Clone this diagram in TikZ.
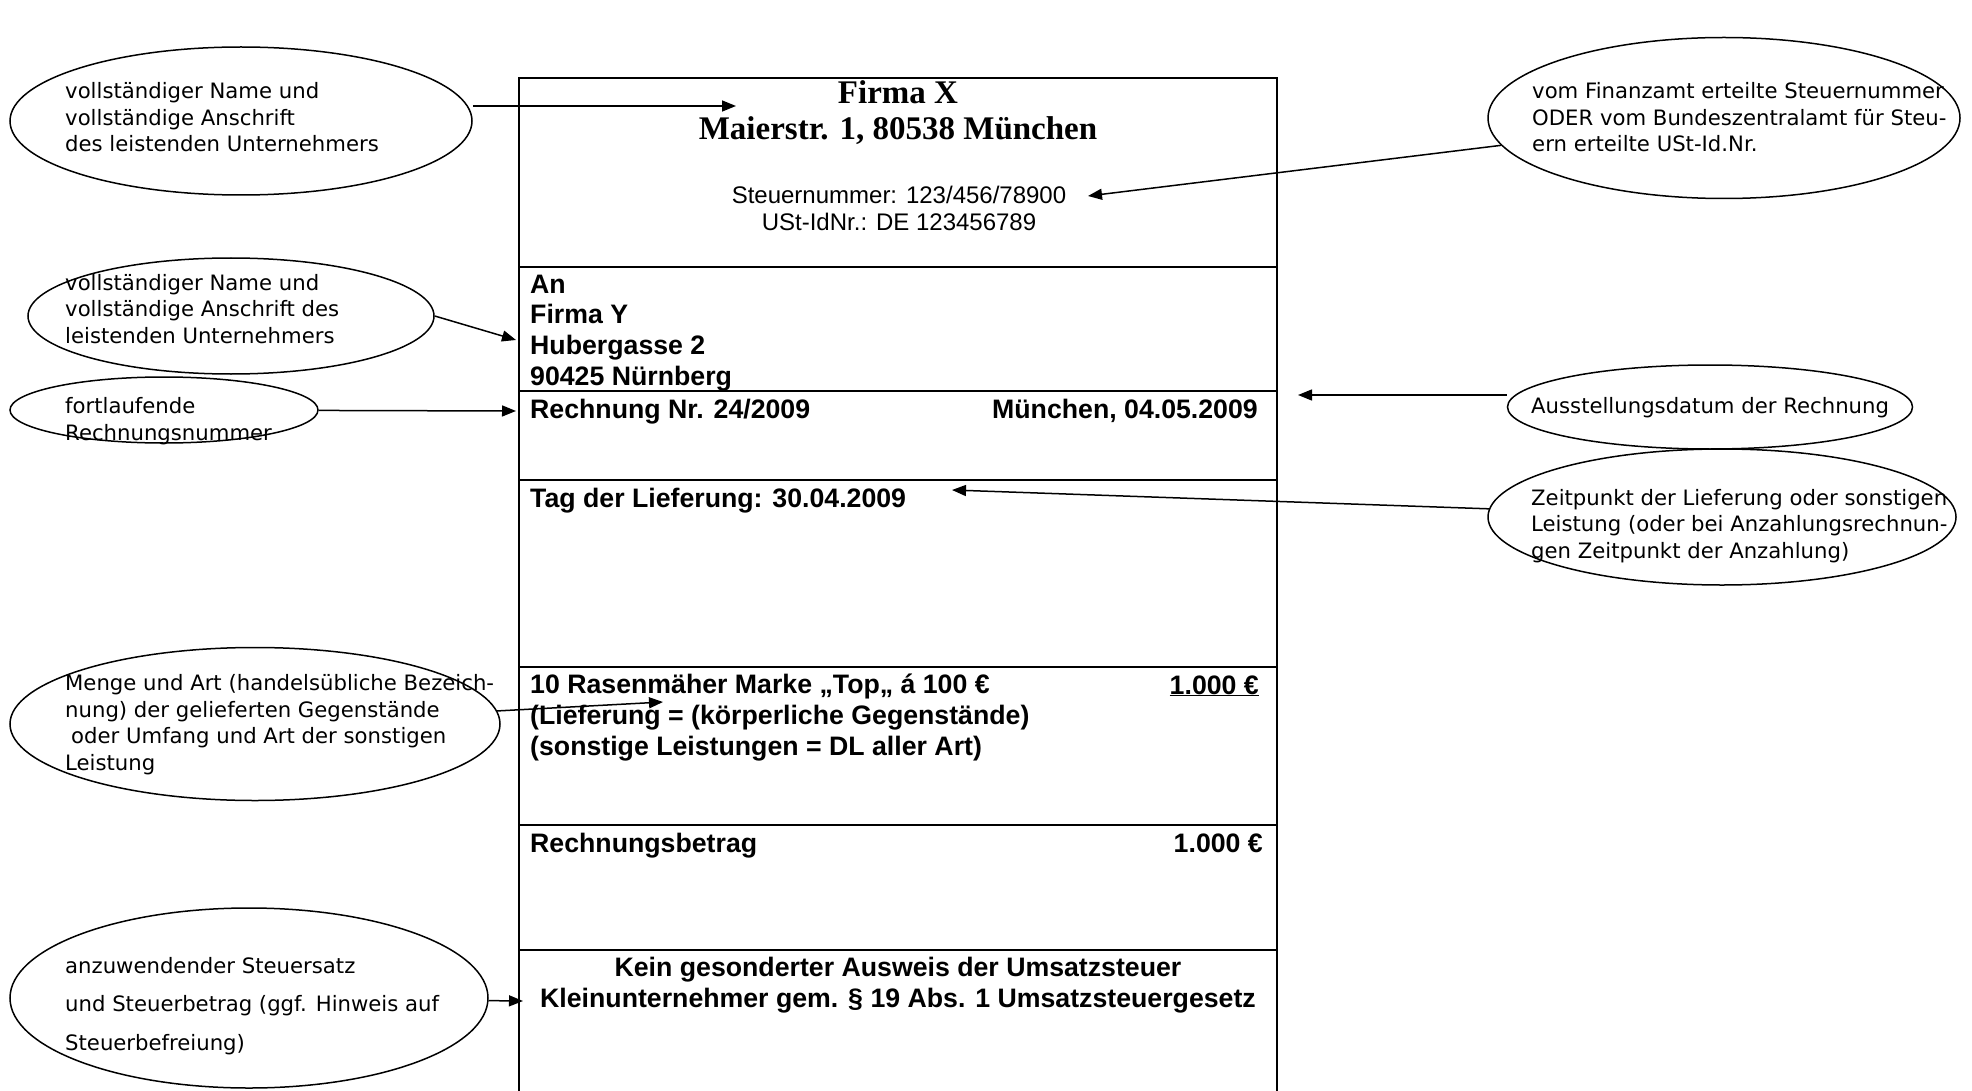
\documentclass[tikz,border=0pt]{standalone}
\usepackage{fontspec}
\setmainfont{Liberation Sans}
\newfontfamily\notefont{DejaVu Sans}
\newfontfamily\headfont{Liberation Serif}
\usetikzlibrary{shapes,arrows.meta,positioning}
\tikzstyle{bubble}=[ellipse,draw,line width=1.5pt,inner sep=0pt]
\tikzstyle{note}=[font=\notefont\fontsize{21.2}{26.5}\selectfont,align=left,inner sep=0pt,anchor=base west]
\tikzstyle{cell}=[font=\bfseries\fontsize{26.7}{30.6}\selectfont,align=left,inner sep=0pt,anchor=base west]
\tikzstyle{frame}=[line width=2pt]
\tikzstyle{arr}=[-{Triangle[length=14pt,width=11pt]},line width=1.5pt]

\begin{document}
\begin{tikzpicture}[x=1pt,y=-1pt]
\useasboundingbox (0,0) rectangle (1972,1091);
% invoice form (multi-line nodes sit on their last baseline)
\draw[frame] (519,1091) -- (519,78) -- (1277,78) -- (1277,1091);
\foreach \y in {267,391,480,667,825,950}
  \draw[frame] (519,\y) -- (1277,\y);
\node[font=\headfont\bfseries\fontsize{33}{36}\selectfont,align=center,inner sep=0pt,anchor=base] (firma) at (898,140) {Firma X\\Maierstr. 1, 80538 München};
\node[font=\fontsize{24}{27}\selectfont,align=center,inner sep=0pt,anchor=base] (stnr) at (899,231) {Steuernummer: 123/456/78900\\USt-IdNr.: DE 123456789};
\node[cell] (empf) at (530,385) {An\\Firma Y\\Hubergasse 2\\90425 Nürnberg};
\node[cell] (renr) at (530,418) {Rechnung Nr. 24/2009};
\node[cell,anchor=base east] (datum) at (1258,418) {München, 04.05.2009};
\node[cell] (tag) at (530,507) {Tag der Lieferung: 30.04.2009};
\node[cell] (posten) at (530,755) {10 Rasenmäher Marke „Top„ á 100 €\\(Lieferung = (körperliche Gegenstände)\\(sonstige Leistungen = DL aller Art)};
\node[cell,anchor=base east] (preis) at (1259,694) {\underline{1.000 €}};
\node[cell] (betrag) at (530,852) {Rechnungsbetrag};
\node[cell,anchor=base east] (summe) at (1263,852) {1.000 €};
\node[cell,align=center,anchor=base] (klein) at (898,1007) {Kein gesonderter Ausweis der Umsatzsteuer\\Kleinunternehmer gem. § 19 Abs. 1 Umsatzsteuergesetz};

% bubbles
\node[bubble,minimum width=462pt,minimum height=148pt] (e1) at (241,121) {};
\node[bubble,minimum width=472pt,minimum height=161pt] (e2) at (1724,118) {};
\node[bubble,minimum width=406pt,minimum height=116pt] (e3) at (231,316) {};
\node[bubble,minimum width=308pt,minimum height=66pt] (e4) at (164,410) {};
\node[bubble,minimum width=405pt,minimum height=84pt] (e5) at (1710,407) {};
\node[bubble,minimum width=468pt,minimum height=136pt] (e6) at (1722,517) {};
\node[bubble,minimum width=490pt,minimum height=153pt] (e7) at (255,724) {};
\node[bubble,minimum width=478pt,minimum height=180pt] (e8) at (249,998) {};
\node[note] (n1) at (65,152) {vollständiger Name und\\vollständige Anschrift\\des leistenden Unternehmers};
\node[note] (n2) at (1532,152) {vom Finanzamt erteilte Steuernummer\\ODER vom Bundeszentralamt für Steu-\\ern erteilte USt-Id.Nr.};
\node[note] (n3) at (65,343) {vollständiger Name und\\vollständige Anschrift des\\leistenden Unternehmers};
\node[note] (n4) at (65,440) {fortlaufende\\Rechnungsnummer};
\node[note] (n5) at (1531,413) {Ausstellungsdatum der Rechnung};
\node[note] (n6) at (1531,558) {Zeitpunkt der Lieferung oder sonstigen\\Leistung (oder bei Anzahlungsrechnun-\\gen Zeitpunkt der Anzahlung)};
\node[note] (n7) at (65,770) {Menge und Art (handelsübliche Bezeich-\\nung) der gelieferten Gegenstände\\\hspace{6pt}oder Umfang und Art der sonstigen\\Leistung};
\node[note,font=\notefont\fontsize{21.2}{38.5}\selectfont] (n8) at (65,1050) {anzuwendender Steuersatz\\und Steuerbetrag (ggf. Hinweis auf\\Steuerbefreiung)};

% arrow tips
\coordinate (t1) at (736,106);
\coordinate (t2) at (1088,196);
\coordinate (t3) at (516,340);
\coordinate (t4) at (516,411);
\coordinate (t5) at (1298,395);
\coordinate (t6) at (952,490);
\coordinate (t7) at (663,702);
\coordinate (t8) at (523,1001);
\draw[arr] (e1.east |- t1) -- (t1);
\draw[arr] (e2) -- (t2);
\draw[arr] (e3.east) -- (t3);
\draw[arr] (e4) -- (t4);
\draw[arr] (e5.west |- t5) -- (t5);
\draw[arr] (e6) -- (t6);
\draw[arr] (e7) -- (t7);
\draw[arr] (e8) -- (t8);
\end{tikzpicture}
\end{document}
